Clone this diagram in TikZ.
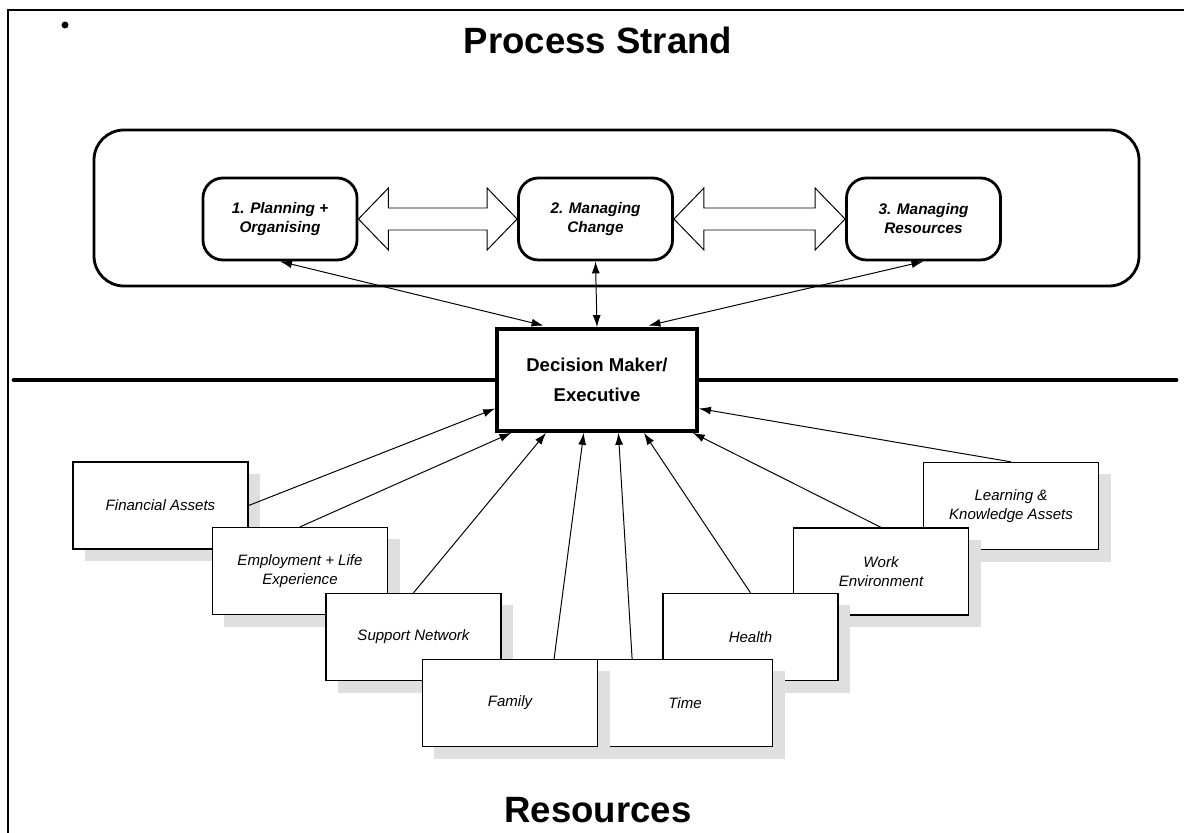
\documentclass[tikz,border=0pt]{standalone}
\usepackage{fontspec}
\setmainfont{Liberation Sans}
\usetikzlibrary{arrows.meta,calc,shadows}

\tikzset{
  title/.style={font=\bfseries\fontsize{26}{30}\selectfont},
  procbox/.style={draw, line width=2pt, rounded corners=0.5cm,
    minimum width=3.85cm, minimum height=2.05cm, align=center,
    font=\bfseries\itshape\fontsize{10.9}{13.5}\selectfont},
  decbox/.style={draw, line width=2.6pt, fill=white,
    minimum width=5cm, minimum height=2.55cm, align=center,
    font=\bfseries\fontsize{13.2}{21.3}\selectfont},
  resbox/.style={draw, line width=0.9pt, fill=white,
    minimum width=4.375cm, minimum height=2.175cm, align=center,
    font=\itshape\fontsize{10.7}{13}\selectfont,
    general shadow={fill=gray!25, shadow xshift=0.3cm, shadow yshift=-0.3cm}},
  link/.style={line width=0.7pt, -{Latex[length=3mm,width=2mm]}},
  twolink/.style={line width=0.7pt, {Latex[length=3mm,width=2mm]}-{Latex[length=3mm,width=2mm]}},
  fatarrow/.style={draw, line width=0.7pt, fill=white},
  divider/.style={line width=3.5pt, line cap=round}
}

\begin{document}
\begin{tikzpicture}[x=0.025cm, y=-0.025cm]
  \useasboundingbox (0,0) rectangle (1184,833);

  % Rahmen der Seite
  \draw[line width=1.3pt] (8,833) -- (8,10) -- (1184,10);
  \fill (65,25) circle (3.5);

  % Ueberschriften
  \node[title] (ptitle) at (598,40) {Process Strand};
  \node[title] (rtitle) at (598,810) {Resources};

  % Prozess-Strang
  \draw[line width=2pt, rounded corners=0.75cm] (94,130) rectangle (1139,286);
  \node[procbox] (plan)   at (280,219)   {1. Planning +\\Organising};
  \node[procbox] (change) at (595.5,219) {2. Managing\\Change};
  \node[procbox] (manres) at (923.5,219) {3. Managing\\Resources};

  % Doppelpfeile zwischen den Schritten
  \foreach \a/\b in {plan/change, change/manres}
    \draw[fatarrow] (\a.east) -- ([shift={(30,-31)}]\a.east) -- ([shift={(30,-11)}]\a.east)
      -- ([shift={(-30,-11)}]\b.west) -- ([shift={(-30,-31)}]\b.west) -- (\b.west)
      -- ([shift={(-30,31)}]\b.west) -- ([shift={(-30,11)}]\b.west)
      -- ([shift={(30,11)}]\a.east) -- ([shift={(30,31)}]\a.east) -- cycle;

  % Trennlinie und Entscheider
  \coordinate (divL) at (14,380);
  \coordinate (divR) at (1176,380);
  \node[decbox] (dec) at (597,380) {Decision Maker/\\Executive};
  \draw[divider] (divL) -- (dec.west) (dec.east) -- (divR);

  \draw[twolink, shorten >=0.17cm] (plan.south) -- ($(dec.north west)!.27!(dec.north east)$);
  \draw[twolink] (change.south) -- (dec.north);
  \draw[twolink, shorten >=0.17cm] (manres.south) -- ($(dec.north west)!.72!(dec.north east)$);

  % Ressourcen
  \node[resbox] (fin) at (160.5,505.5) {Financial Assets};
  \node[resbox] (emp) at (300,571)     {Employment + Life\\Experience};
  \node[resbox] (sup) at (413.5,637)   {Support Network};
  \node[resbox] (lea) at (1011,506)    {Learning \&\\Knowledge Assets};
  \node[resbox] (wor) at (881,571.5)   {Work\\Environment};
  \node[resbox] (hea) at (750.5,637)   {Health};
  \node[resbox] (tim) at (685,703)     {Time};
  \node[resbox] (fam) at (510,703)     {Family};

  \draw[link] (fin.east) -- ($(dec.south west)!.23!(dec.north west)$);
  \draw[link] (emp.north) -- ($(dec.south west)!.08!(dec.south east)$);
  \draw[link] (sup.north) -- ($(dec.south west)!.25!(dec.south east)$);
  \draw[link] ($(fam.north west)!.75!(fam.north east)$) -- ($(dec.south west)!.435!(dec.south east)$);
  \draw[link] ($(tim.north west)!.2!(tim.north east)$) -- ($(dec.south west)!.605!(dec.south east)$);
  \draw[link] (hea.north) -- ($(dec.south west)!.73!(dec.south east)$);
  \draw[link] (wor.north) -- ($(dec.south west)!.97!(dec.south east)$);
  \draw[link] (lea.north) -- ($(dec.south east)!.23!(dec.north east)$);
\end{tikzpicture}
\end{document}
